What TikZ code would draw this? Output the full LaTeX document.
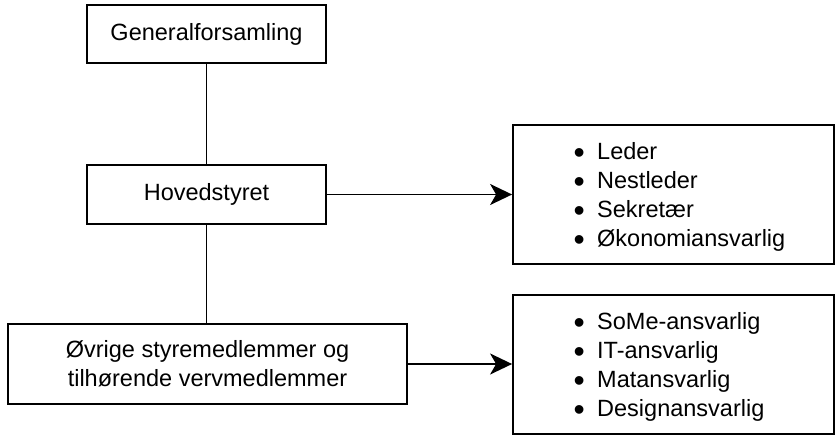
\documentclass[tikz,border=0pt]{standalone}
\usepackage{fontspec}
\setmainfont{Liberation Sans}
\usetikzlibrary{arrows.meta}
\newcommand{\mybul}{\makebox[10pt][c]{\raisebox{-3.5pt}{\fontsize{32}{29}\selectfont\textbullet}}\hspace{13pt}}
\begin{document}
\begin{tikzpicture}[x=1pt,y=-1pt,
  box/.style={draw=black,line width=1.8pt,fill=white,inner sep=0pt,align=center,
    font=\fontsize{23.5}{29}\selectfont},
  listtext/.style={anchor=west,inner sep=0pt,align=left,font=\fontsize{23.5}{29}\selectfont},
  conn/.style={line width=1.8pt},
  arr/.style={line width=1.8pt,-{Stealth[length=22pt,width=21pt,inset=6pt]}}]
\useasboundingbox (0,0) rectangle (840,444);
\node[box,minimum width=239pt,minimum height=58pt] (ga) at (206.5,34) {Generalforsamling};
\node[box,minimum width=239pt,minimum height=59pt] (hs) at (206.5,194.5) {Hovedstyret};
\node[box,minimum width=399pt,minimum height=80pt] (ov) at (207.5,364) {Øvrige styremedlemmer og\\tilhørende vervmedlemmer};
\node[box,minimum width=321pt,minimum height=139pt] (b1) at (673.5,194.5) {};
\node[box,minimum width=321pt,minimum height=139pt] (b2) at (673.5,364.5) {};
\node[listtext] (l1) at (574,197) {\mybul Leder\\\mybul Nestleder\\\mybul Sekretær\\\mybul Økonomiansvarlig};
\node[listtext] (l2) at (574,367) {\mybul SoMe-ansvarlig\\\mybul IT-ansvarlig\\\mybul Matansvarlig\\\mybul Designansvarlig};
\draw[conn] (ga.south) -- (hs.north);
\draw[conn] (hs.south) -- (hs.south |- ov.north);
\draw[arr] (hs.east) -- (b1.west);
\draw[arr] (ov.east) -- (ov.east -| b2.west);
\end{tikzpicture}
\end{document}
